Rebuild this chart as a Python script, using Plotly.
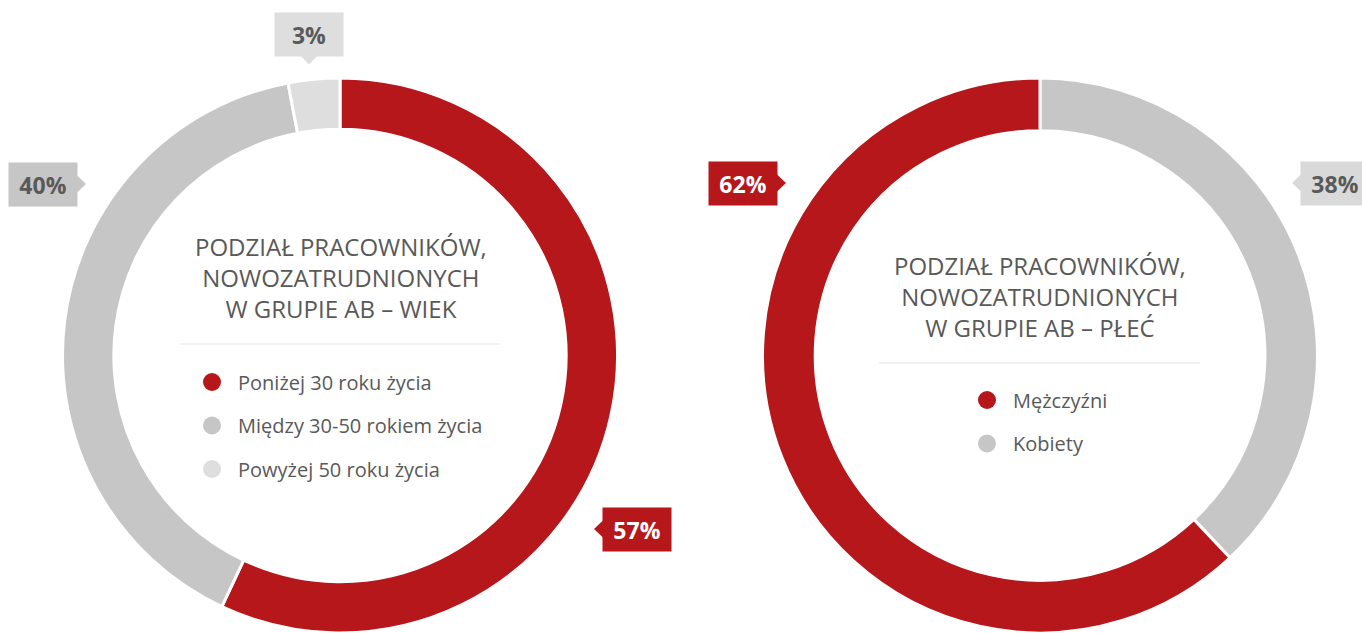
import plotly.graph_objects as go

W, H = 1362, 633

# ---- data ----
age_labels = ["Poniżej 30 roku życia", "Między 30-50 rokiem życia", "Powyżej 50 roku życia"]
age_values = [57, 40, 3]
gender_labels = ["Mężczyźni", "Kobiety"]
gender_values = [62, 38]
title_age = "PODZIAŁ PRACOWNIKÓW,<br>NOWOZATRUDNIONYCH<br>W GRUPIE AB – WIEK"
title_gender = "PODZIAŁ PRACOWNIKÓW,<br>NOWOZATRUDNIONYCH<br>W GRUPIE AB – PŁEĆ"

RED = "#b5171a"
GRAY = "#c6c6c6"
LGRAY = "#dedede"
TXT = "#595959"
FONT = "Open Sans"

age_colors = [RED, GRAY, LGRAY]
gender_colors = [RED, GRAY]


def px(x):
    return x / W


def py(y):
    return 1 - y / H


fig = go.Figure()

# left donut (center ~340, top 78)
fig.add_trace(go.Pie(
    labels=age_labels, values=age_values, sort=False, direction="clockwise",
    rotation=0, hole=0.815, textinfo="none", hoverinfo="label+percent",
    marker=dict(colors=age_colors, line=dict(color="white", width=3)),
    domain=dict(x=[px(340 - 290), px(340 + 290)], y=[0, py(78)]),
    showlegend=False,
))

# right donut (center ~1040, top 78): Kobiety first clockwise from 12 o'clock
fig.add_trace(go.Pie(
    labels=gender_labels[::-1], values=gender_values[::-1], sort=False, direction="clockwise",
    rotation=0, hole=0.81, textinfo="none", hoverinfo="label+percent",
    marker=dict(colors=gender_colors[::-1], line=dict(color="white", width=3)),
    domain=dict(x=[px(1040 - 290), px(1040 + 290)], y=[0, py(78)]),
    showlegend=False,
))

annotations = []
shapes = []

# titles
for cx, cy, t in [(341, 278, title_age), (1040, 296, title_gender)]:
    annotations.append(dict(
        x=px(cx), y=py(cy), xref="paper", yref="paper", text=t, showarrow=False,
        font=dict(family=FONT, size=24, color=TXT), align="center",
        xanchor="center", yanchor="middle",
    ))

# separators
for x0, x1, y in [(180, 500, 344), (879, 1200, 363)]:
    shapes.append(dict(type="line", xref="paper", yref="paper",
                       x0=px(x0), x1=px(x1), y0=py(y), y1=py(y),
                       line=dict(color="#ececec", width=1.5)))

# custom legends
def legend(labels, colors, cx, tx, y0, dy):
    for i, (lab, col) in enumerate(zip(labels, colors)):
        y = y0 + i * dy
        r = 9
        shapes.append(dict(type="circle", xref="paper", yref="paper",
                           x0=px(cx - r), x1=px(cx + r), y0=py(y + r), y1=py(y - r),
                           fillcolor=col, line=dict(width=0)))
        annotations.append(dict(
            x=px(tx), y=py(y), xref="paper", yref="paper", text=lab, showarrow=False,
            font=dict(family=FONT, size=20, color=TXT),
            xanchor="left", yanchor="middle",
        ))

legend(age_labels, age_colors, 212, 236, 382, 43.5)
legend(gender_labels, gender_colors, 987, 1011, 400, 43.5)

# callout boxes
def callout(text, cx, cy, bg, fg, pointer):
    bw, bh = 68, 43
    annotations.append(dict(
        x=px(cx), y=py(cy), xref="paper", yref="paper", text="<b>%s</b>" % text,
        showarrow=False, font=dict(family=FONT, size=23, color=fg),
        bgcolor=bg, width=bw, height=bh, borderpad=0, align="center", valign="middle",
        xanchor="center", yanchor="middle",
    ))
    s = 9
    if pointer == "down":
        pts = [(cx - s, cy + bh / 2 - 0.5), (cx + s, cy + bh / 2 - 0.5), (cx, cy + bh / 2 + s)]
    elif pointer == "right":
        pts = [(cx + bw / 2 - 0.5, cy - s), (cx + bw / 2 - 0.5, cy + s), (cx + bw / 2 + s, cy)]
    else:
        pts = [(cx - bw / 2 + 0.5, cy - s), (cx - bw / 2 + 0.5, cy + s), (cx - bw / 2 - s, cy)]
    path = "M " + " L ".join("%f,%f" % (px(a), py(b)) for a, b in pts) + " Z"
    shapes.append(dict(type="path", xref="paper", yref="paper", path=path,
                       fillcolor=bg, line=dict(width=0)))

callout("%d%%" % age_values[2], 309, 34, LGRAY, TXT, "down")
callout("%d%%" % age_values[1], 43, 184, GRAY, TXT, "right")
callout("%d%%" % age_values[0], 637, 529, RED, "white", "left")
callout("%d%%" % gender_values[0], 743, 183, RED, "white", "right")
callout("%d%%" % gender_values[1], 1335, 183, "#d9d9d9", TXT, "left")

fig.update_layout(
    width=W, height=H, margin=dict(l=0, r=0, t=0, b=0),
    paper_bgcolor="white", plot_bgcolor="white",
    annotations=annotations, shapes=shapes, showlegend=False,
)

fig.write_html(
    "out.html",
    config={"displayModeBar": False},
    post_script="document.body.style.margin='0';document.body.style.overflow='hidden';",
)
